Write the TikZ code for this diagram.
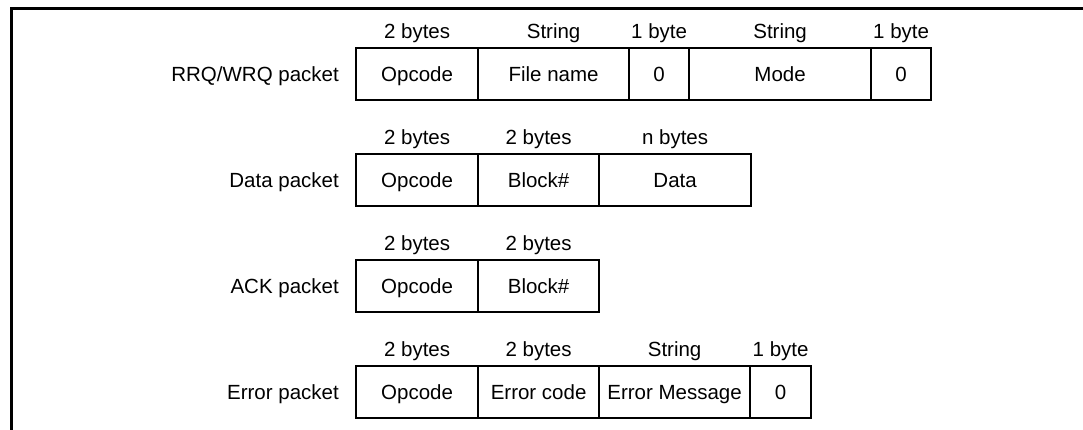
\documentclass[tikz,border=0pt]{standalone}
\usepackage{fontspec}
\setmainfont{Liberation Sans}
\begin{document}
\begin{tikzpicture}[x=1pt,y=-1pt,
  font=\fontsize{20.5}{24}\selectfont,
  cell/.style={draw=black, line width=2.2pt, rectangle, inner sep=0pt,
    minimum height=52pt, anchor=north west, text height=14.8pt, text depth=0pt},
  lbl/.style={inner sep=0pt, anchor=base},
  plbl/.style={inner sep=0pt, anchor=east, text height=14.8pt, text depth=0pt},
  frame/.style={line width=3pt}]
\useasboundingbox (0,0) rectangle (1083,429);
\coordinate (ftl) at (11,8);
\coordinate (ftr) at (1084,8);
\coordinate (fbl) at (11,430);
\draw[frame] (ftr) -- (ftl) -- (fbl);

% RRQ/WRQ packet
\node[cell, minimum width=122pt] (a1) at (355,47) {Opcode};
\node[cell, minimum width=151pt] (a2) at (477,47) {File name};
\node[cell, minimum width=60pt]  (a3) at (628,47) {0};
\node[cell, minimum width=182pt] (a4) at (688,47) {Mode};
\node[cell, minimum width=60pt]  (a5) at (870,47) {0};
\node[plbl] (aL) at ([xshift=-16pt]a1.west) {RRQ/WRQ packet};
\node[lbl] (a1t) at ([yshift=9pt]a1.north) {2 bytes};
\node[lbl] (a2t) at ([yshift=9pt]a2.north) {String};
\node[lbl] (a3t) at ([yshift=9pt]a3.north) {1 byte};
\node[lbl] (a4t) at ([yshift=9pt]a4.north) {String};
\node[lbl] (a5t) at ([yshift=9pt]a5.north) {1 byte};

% Data packet
\node[cell, minimum width=122pt] (b1) at (355,153) {Opcode};
\node[cell, minimum width=121pt] (b2) at (477,153) {Block\#};
\node[cell, minimum width=152pt] (b3) at (598,153) {Data};
\node[plbl] (bL) at ([xshift=-16pt]b1.west) {Data packet};
\node[lbl] (b1t) at ([yshift=9pt]b1.north) {2 bytes};
\node[lbl] (b2t) at ([yshift=9pt]b2.north) {2 bytes};
\node[lbl] (b3t) at ([yshift=9pt]b3.north) {n bytes};

% ACK packet
\node[cell, minimum width=122pt] (c1) at (355,259) {Opcode};
\node[cell, minimum width=121pt] (c2) at (477,259) {Block\#};
\node[plbl] (cL) at ([xshift=-16pt]c1.west) {ACK packet};
\node[lbl] (c1t) at ([yshift=9pt]c1.north) {2 bytes};
\node[lbl] (c2t) at ([yshift=9pt]c2.north) {2 bytes};

% Error packet
\node[cell, minimum width=122pt] (d1) at (355,365) {Opcode};
\node[cell, minimum width=121pt] (d2) at (477,365) {Error code};
\node[cell, minimum width=151pt] (d3) at (598,365) {Error Message};
\node[cell, minimum width=61pt]  (d4) at (749,365) {0};
\node[plbl] (dL) at ([xshift=-16pt]d1.west) {Error packet};
\node[lbl] (d1t) at ([yshift=9pt]d1.north) {2 bytes};
\node[lbl] (d2t) at ([yshift=9pt]d2.north) {2 bytes};
\node[lbl] (d3t) at ([yshift=9pt]d3.north) {String};
\node[lbl] (d4t) at ([yshift=9pt]d4.north) {1 byte};
\end{tikzpicture}
\end{document}
